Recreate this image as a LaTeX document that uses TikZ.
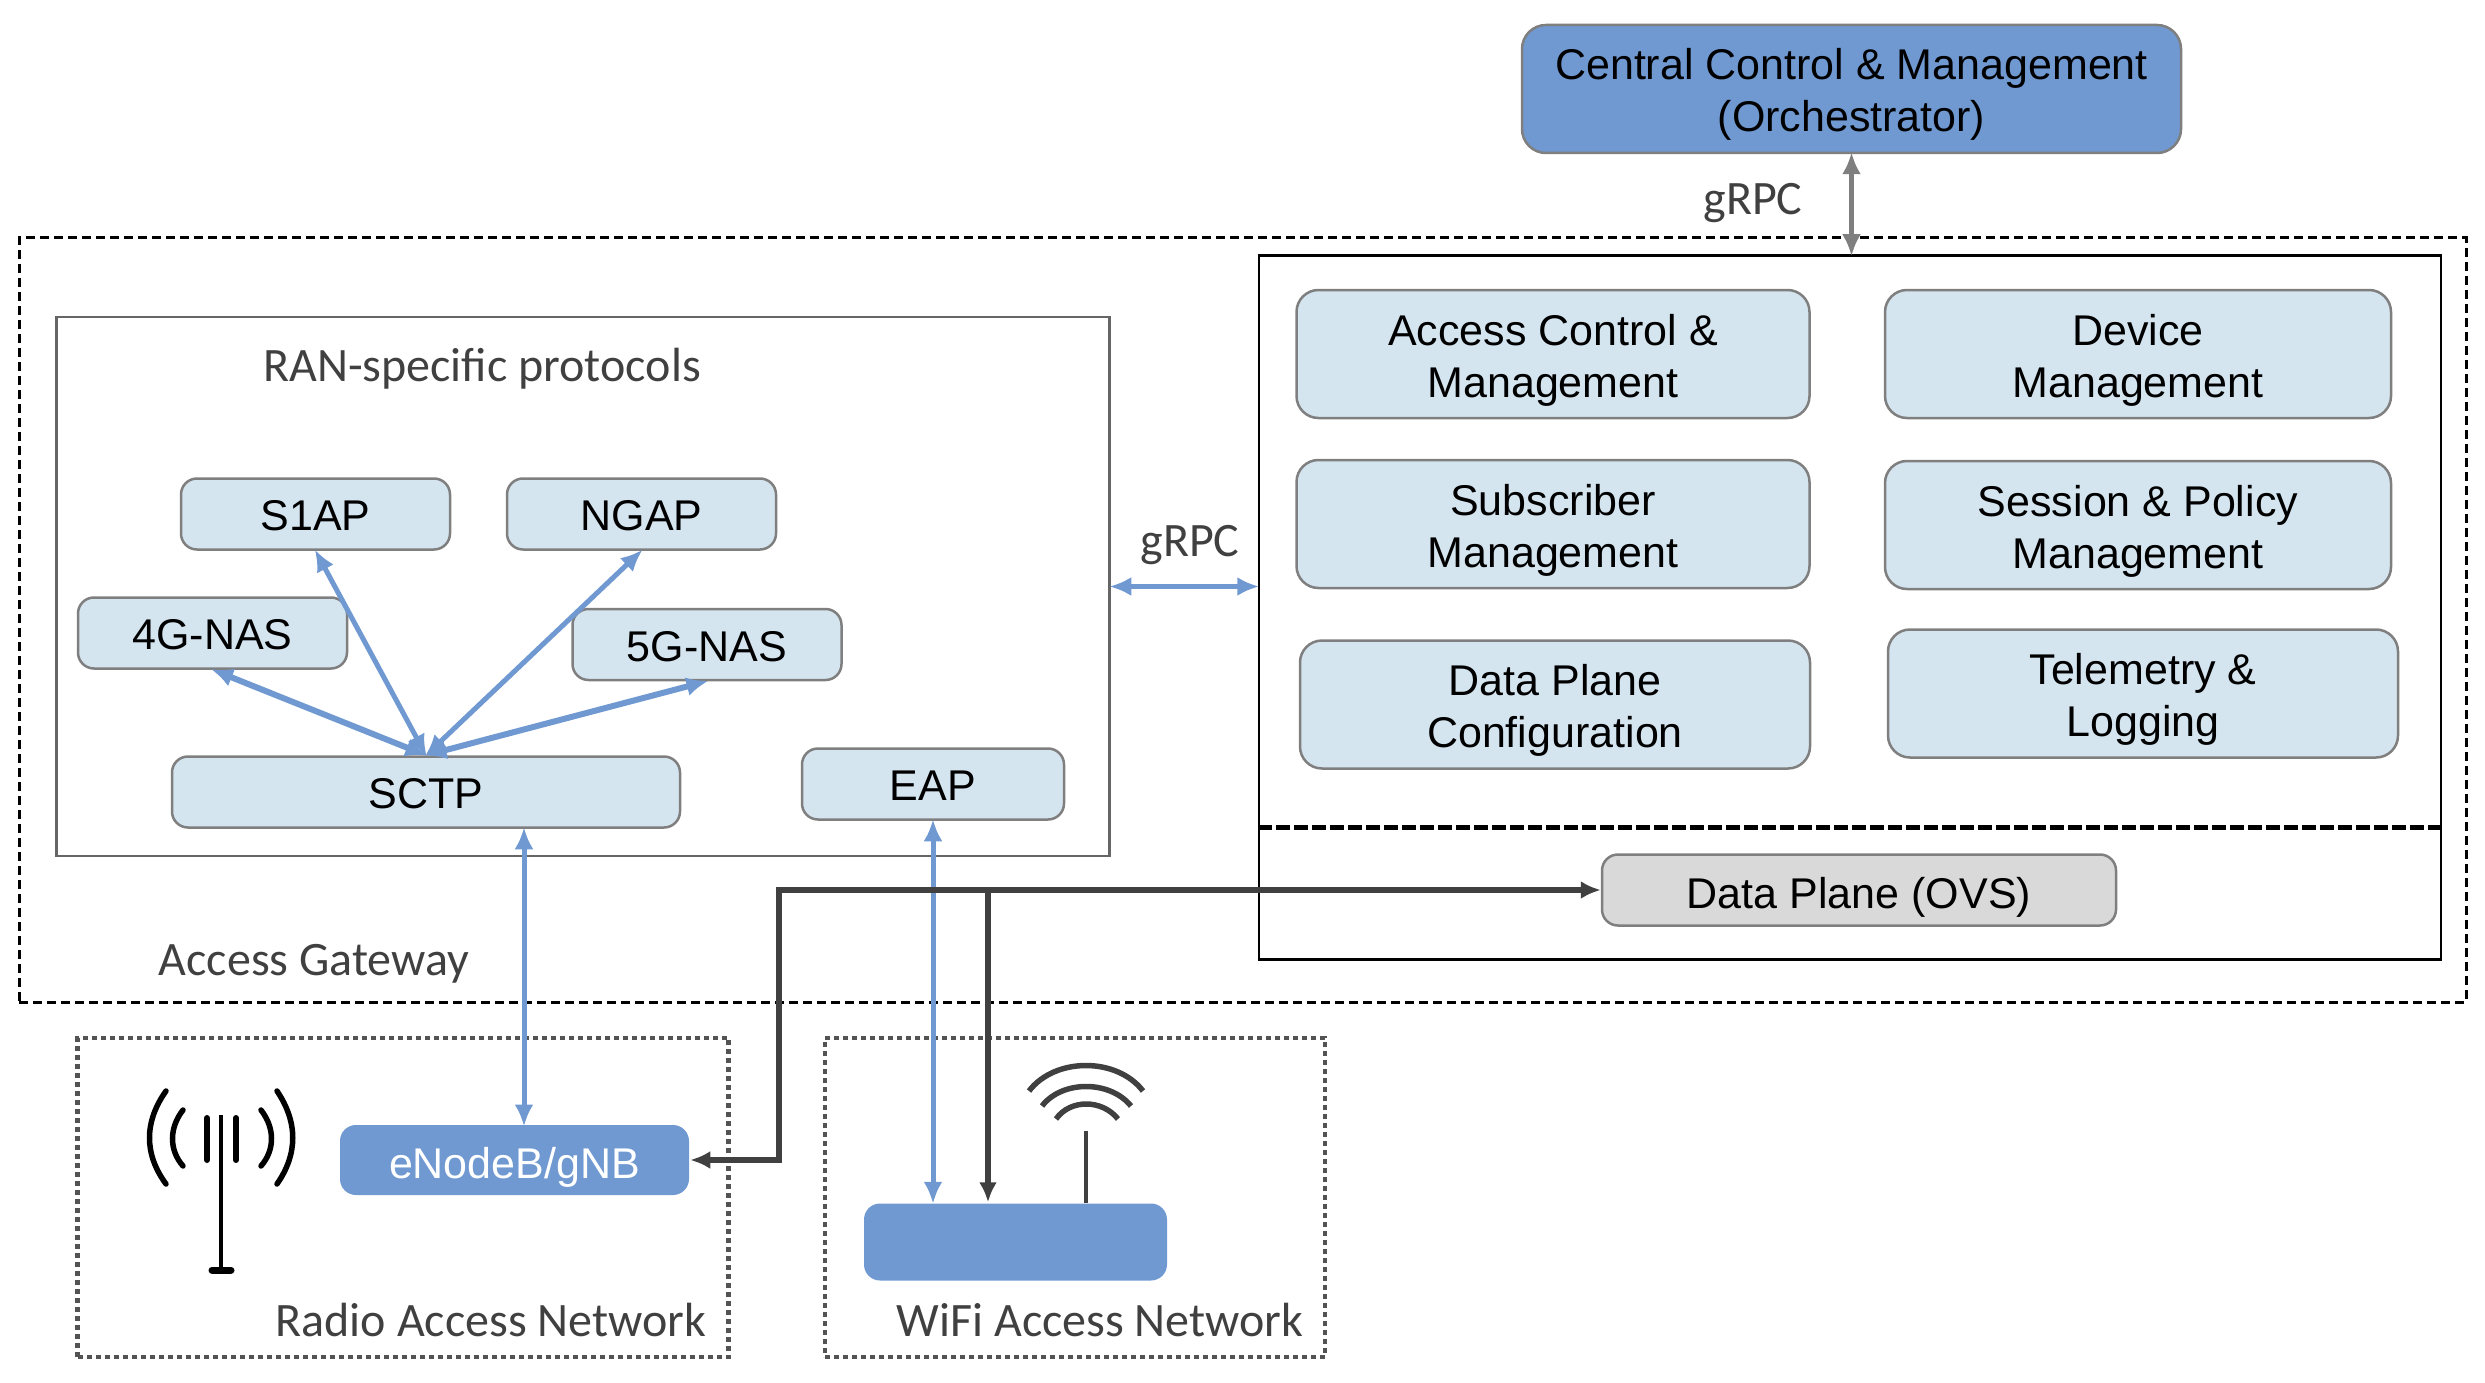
\documentclass[tikz,border=0pt]{standalone}
\usepackage{fontspec}
\setmainfont{Liberation Sans}
\newfontfamily\labelfont{Carlito}
\usetikzlibrary{arrows.meta}
\definecolor{boxblue}{HTML}{7099D2}
\definecolor{boxlight}{HTML}{D5E5F0}
\definecolor{boxgray}{HTML}{D9D9D9}
\definecolor{rimgray}{HTML}{7F7F7F}
\definecolor{wiredark}{HTML}{404040}
\tikzset{
   lightbox/.style={draw=rimgray, line width=2.5, fill=boxlight, rounded corners=16, inner sep=0pt, align=center, font=\fontsize{43}{52}\selectfont},
   protobox/.style={lightbox, minimum width=269, minimum height=71, text height=33.5, text depth=0},
   ctlbox/.style={lightbox, minimum width=510, minimum height=128, rounded corners=22, text height=96, text depth=10},
   frame/.style={draw=#1, line width=2.5, inner sep=0pt},
   gwframe/.style={draw=black, line width=3, dash pattern=on 9 off 5, inner sep=0pt},
   netframe/.style={draw=wiredark!90, line width=4.5, dash pattern=on 5 off 4, inner sep=0pt},
   caption/.style={font=\labelfont\fontsize{48}{56}\selectfont, text=wiredark, inner sep=0pt},
   bluewire/.style={draw=boxblue, line width=#1, {Latex[length=22,width=19]}-{Latex[length=22,width=19]}, shorten <=-1.5, shorten >=-1.5},
   bluewire/.default=5,
   darkwire/.style={draw=wiredark, line width=5.5},
   darktip/.style={-{Latex[length=20,width=18]}},
}
\begin{document}
\begin{tikzpicture}[x=1pt, y=-1pt]
   \useasboundingbox (0,0) rectangle (2485,1383);
   % frames
   \node[gwframe, minimum width=2447, minimum height=764] (gateway) at (1242.5,620) {};
   \node[frame=black, minimum width=1182, minimum height=704] (core) at (1850,607.5) {};
   \node[frame=rimgray!80!black, minimum width=1053, minimum height=539] (ran) at (583,586.5) {};
   \node[netframe, minimum width=651, minimum height=319] (radionet) at (403,1197.5) {};
   \node[netframe, minimum width=500, minimum height=319] (wifinet) at (1075,1197.5) {};
   % captions
   \node[caption] (rantitle) at (482,369) {RAN-specific protocols};
   \node[caption] (gwtitle) at (314,964) {Access Gateway};
   \node[caption] (radiotitle) at (491,1320) {Radio Access Network};
   \node[caption] (wifititle) at (1100,1320) {WiFi Access Network};
   \node[caption] (grpctop) at (1753,203) {gRPC};
   \node[caption] (grpcmid) at (1190,545) {gRPC};
   % protocol boxes
   \node[protobox] (s1ap) at (315.5,514) {S1AP};
   \node[protobox] (ngap) at (641.5,514) {NGAP};
   \node[protobox] (nas4g) at (212.5,633) {4G-NAS};
   \node[protobox] (nas5g) at (707,644.5) {5G-NAS};
   \node[protobox, minimum width=508] (sctp) at (426,792) {SCTP};
   \node[protobox, minimum width=262] (eap) at (933,784) {EAP};
   % control plane boxes
   \node[ctlbox, minimum width=513] (access) at (1553,354) {Access Control \&\\Management};
   \node[ctlbox, minimum width=506] (device) at (2138,354) {Device\\Management};
   \node[ctlbox, minimum width=513] (subscriber) at (1553,524) {Subscriber\\Management};
   \node[ctlbox, minimum width=506] (session) at (2138,525) {Session \& Policy\\Management};
   \node[ctlbox] (dpconfig) at (1555,704.5) {Data Plane\\Configuration};
   \node[ctlbox] (telemetry) at (2143,693.5) {Telemetry \&\\Logging};
   \node[protobox, minimum width=514, fill=boxgray, text height=36] (ovs) at (1859,890) {Data Plane (OVS)};
   \node[ctlbox, minimum width=659, fill=boxblue, rounded corners=24] (orch) at (1851.5,89) {Central Control \& Management\\(Orchestrator)};
   % radio side
   \node[protobox, minimum width=349, minimum height=70, draw=none, fill=boxblue, text=white, text height=36] (enb) at (514.5,1160) {eNodeB/gNB};
   \node[protobox, minimum width=303, minimum height=77, draw=none, fill=boxblue] (wifiap) at (1015.5,1242) {};
   \coordinate (enbport) at (524,1125);
   \coordinate (apdata) at (988,890);
   \coordinate (apbend) at (779,890);
   \coordinate (sep) at (0,827);
   % connectors
   \draw[line width=5, dash pattern=on 14 off 4] (sep -| core.west) -- (sep -| core.east);
   \draw[bluewire=6] (nas4g.south) -- (sctp.north);
   \draw[bluewire] (s1ap.south) -- (sctp.north);
   \draw[bluewire] (ngap.south) -- (sctp.north);
   \draw[bluewire=6] (nas5g.south) -- (sctp.north);
   \draw[bluewire] (ran.east) -- (ran.east -| core.west);
   \draw[bluewire] (enbport |- sctp.south) -- (enbport);
   \draw[bluewire] (eap.south) -- (eap.south |- wifiap.north);
   \draw[draw=rimgray, line width=4.5, shorten <=-2, shorten >=-2, {Latex[length=22,width=19]}-{Latex[length=22,width=19]}] (orch.south) -- (orch.south |- core.north);
   \draw[darkwire, {Latex[length=20,width=18]}-{Latex[length=20,width=18]}] (enb.east) -| (apbend) -- (ovs.west);
   \draw[darkwire, darktip] (apdata) -- (apdata |- wifiap.north);
   % antenna
   \draw[line width=4.5] (221,1115) -- (221,1270);
   \draw[line width=7, line cap=round] (212,1270) -- (231,1270);
   \draw[line width=6, line cap=round] (207,1118) -- (207,1160);
   \draw[line width=6, line cap=round] (236,1118) -- (236,1160);
   \draw[line width=5.5, line cap=round] (183,1110) .. controls (169,1128) and (169,1150) .. (183,1166);
   \draw[line width=5.5, line cap=round] (166,1091) .. controls (144,1122) and (144,1154) .. (166,1184);
   \draw[line width=5.5, line cap=round] (261,1110) .. controls (275,1128) and (275,1150) .. (261,1166);
   \draw[line width=5.5, line cap=round] (277,1091) .. controls (298,1122) and (298,1154) .. (277,1184);
   % wifi icon
   \draw[draw=wiredark, line width=4.5] (1086,1131) -- (1086,1203);
   \draw[draw=wiredark, line width=5.5] (1029,1091) .. controls (1055,1057) and (1117,1057) .. (1143,1091);
   \draw[draw=wiredark, line width=5.5] (1042,1106) .. controls (1062,1080) and (1110,1080) .. (1131,1106);
   \draw[draw=wiredark, line width=5.5] (1056,1119) .. controls (1070,1099) and (1102,1099) .. (1118,1119);
\end{tikzpicture}
\end{document}
